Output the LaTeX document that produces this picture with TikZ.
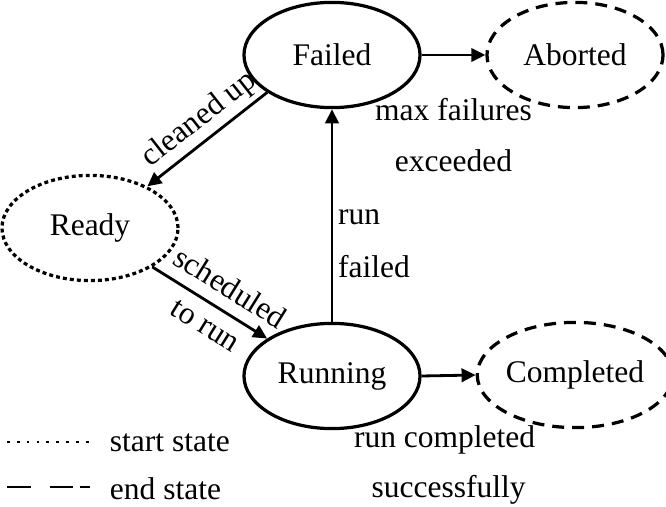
\documentclass[tikz,border=0pt]{standalone}
\usepackage{fontspec}
\setmainfont{Liberation Serif}
\usepackage{tikz}
\usetikzlibrary{arrows.meta,shapes.geometric}

\begin{document}
\begin{tikzpicture}[x=0.025cm,y=0.025cm,
  font=\fontsize{22.4pt}{26pt}\selectfont,
  state/.style={ellipse, draw, line width=2.3pt, minimum width=4.4cm, minimum height=2.63cm, inner sep=0pt},
  startstate/.style={state, dash pattern=on 2.8pt off 2.2pt},
  endstate/.style={state, dash pattern=on 8.5pt off 5.7pt},
  trans/.style={-{Triangle[length=10pt,width=9.5pt]}, line width=2pt}]
\useasboundingbox (0,0) rectangle (666,507);
% states
\node[state] (failed) at (332,452) {Failed};
\node[endstate] (aborted) at (575,452) {Aborted};
\node[startstate] (ready) at (90,279) {Ready};
\node[state] (running) at (332,131) {Running};
\node[endstate] (completed) at (575,132) {Completed};
% transitions
\draw[trans] (failed.210) -- node[sloped, above, pos=0.46] {cleaned up} (ready.36);
\draw[trans] (ready.-32) -- node[sloped, above=5pt, pos=0.57] {scheduled}
  node[sloped, below=5pt, pos=0.56] {to run} (running.150);
\draw[trans] (running.north) -- node[anchor=west, pos=0.49] {run}
  node[anchor=west, pos=0.26] {failed} (failed.south);
\draw[trans] (failed.east) -- node[anchor=base, yshift=-1.625cm] {max failures}
  node[anchor=base, yshift=-2.9cm] {exceeded} (aborted.west);
\draw[trans] (running.east) -- node[anchor=base, yshift=-1.8cm, xshift=-0.1cm] {run completed}
  node[anchor=base, yshift=-3.05cm] {successfully} (completed.west);
% legend
\coordinate (dotA) at (7,65);
\coordinate (dotB) at (90,65);
\coordinate (dashA) at (7,20);
\coordinate (dashB) at (90,20);
\draw[line width=1.4pt, dash pattern=on 2pt off 5pt] (dotA) -- (dotB);
\draw[line width=2.1pt, dash pattern=on 17pt off 13.5pt on 16.3pt off 5pt] (dashA) -- (dashB);
\node[anchor=base west] (startlbl) at (105,55) {start state};
\node[anchor=base west] (endlbl) at (105,7) {end state};
\end{tikzpicture}
\end{document}
